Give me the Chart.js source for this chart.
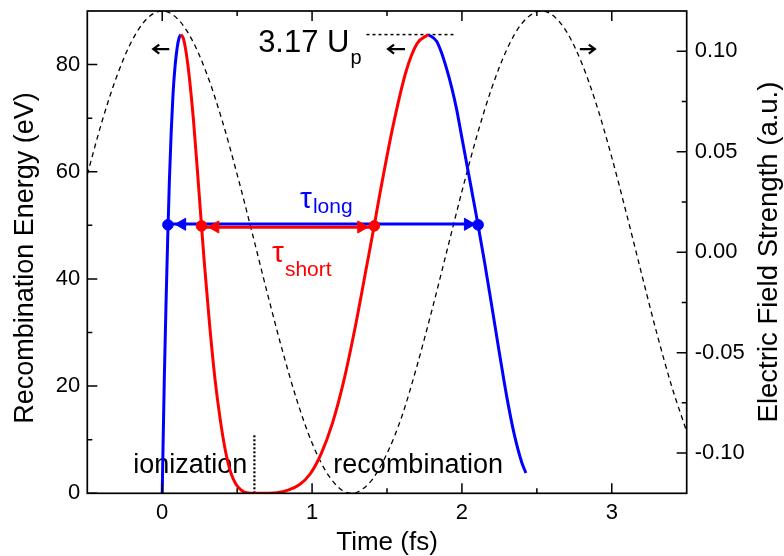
<!DOCTYPE html>
<html>
<head>
<meta charset="utf-8">
<script src="https://cdn.jsdelivr.net/npm/chart.js@4.4.1/dist/chart.umd.min.js"></script>
<style>
  html, body { margin: 0; padding: 0; background: #fff; }
  #wrap { width: 784px; height: 556px; }
</style>
</head>
<body>
<div id="wrap"><canvas id="myChart" width="784" height="556"></canvas></div>
<script>
// Tick values for the three axes
const xTicks = [0, 1, 2, 3];
const xMinor = [0.5, 1.5, 2.5];
const energyTicks = [0, 20, 40, 60, 80];
const energyMinor = [10, 30, 50, 70];
const fieldTicks = [-0.10, -0.05, 0.00, 0.05, 0.10];
const fieldMinor = [-0.075, -0.025, 0.025, 0.075];

// Recombination energy (eV) vs ionization time, long trajectories (blue)
const ionLongT = [0, 0.004, 0.014, 0.025, 0.036, 0.048, 0.060, 0.072, 0.085, 0.100, 0.113, 0.125];
const ionLongE = [0, 6.5, 21.5, 35, 47, 58.5, 67.5, 74.5, 79.5, 83.2, 85, 85.6];
// ... short trajectories (red)
const ionShortT = [0.125, 0.142, 0.170, 0.209, 0.246, 0.262, 0.281, 0.316, 0.351, 0.387, 0.422, 0.457, 0.492, 0.527, 0.562, 0.600, 0.6325];
const ionShortE = [85.6, 84.8, 80.2, 69.5, 56, 50, 43, 31.5, 21.6, 13.8, 7.9, 3.9, 1.7, 0.6, 0.1, 0.01, 0];

// Recombination energy vs recombination time, short trajectories (red)
const recShortT = [0.6325, 0.70, 0.765, 0.84, 0.915, 0.987, 1.061, 1.136, 1.21, 1.287, 1.365, 1.415, 1.45, 1.537, 1.628, 1.70, 1.775];
const recShortE = [0, 0.02, 0.1, 0.6, 1.6, 3.6, 7.4, 13.1, 20.8, 30.9, 42.5, 50, 55.5, 68.1, 78.8, 83.9, 85.6];
// ... long trajectories (blue)
const recLongT = [1.775, 1.83, 1.864, 1.90, 1.931, 1.965, 1.998, 2.03, 2.058, 2.085, 2.108, 2.15, 2.20, 2.25, 2.30, 2.35, 2.40, 2.427];
const recLongE = [85.6, 84.4, 82.2, 79.0, 75.8, 71.6, 66.6, 61.8, 57.6, 53.5, 50, 43.3, 34.8, 26.2, 17.9, 10.9, 5.7, 3.8];

// Electric field strength (a.u.), dashed
const fieldT = [-0.5, -0.4, -0.3, -0.2, -0.1, 0, 0.1, 0.2, 0.3, 0.4, 0.5, 0.6, 0.7, 0.8, 0.9, 1.0, 1.1, 1.2, 1.265, 1.3,
  1.4, 1.5, 1.6, 1.7, 1.8, 1.9, 2.0, 2.1, 2.2, 2.3, 2.4, 2.53, 2.6, 2.7, 2.8, 2.9, 3.0, 3.1, 3.2, 3.3, 3.4, 3.5];
const fieldV = [0.0387, 0.0655, 0.0882, 0.1055, 0.1163, 0.12, 0.1163, 0.1055, 0.0882, 0.0655, 0.0387, 0.0097, -0.0200,
  -0.0484, -0.0740, -0.0950, -0.1100, -0.1185, -0.1200, -0.1195, -0.1133, -0.1002, -0.0815, -0.0566, -0.0288, 0.0007,
  0.0302, 0.0579, 0.0819, 0.1009, 0.1138, 0.1200, 0.1182, 0.1095, 0.0940, 0.0729, 0.0472, 0.0186, -0.0111, -0.0402,
  -0.0668, -0.0893];

// Excursion times at 50 eV
const tauLongT = [0.038, 2.108];
const tauShortT = [0.262, 1.415];
const tauE = 50;
const cutoffE = 85.6;       // 3.17 Up
const cutoffLineT = [1.363, 1.953];
const zeroCrossT = 0.615;   // field zero crossing marker
const zeroCrossTop = 11.2;

const FONT = '"Liberation Sans", Arial, Helvetica, sans-serif';
const BLUE = '#0000ff';
const RED = '#ff0000';

const pts = (xs, ys) => xs.map((v, i) => ({x: v, y: ys[i]}));

function curve(xs, ys, color) {
  return {data: pts(xs, ys), borderColor: color, borderWidth: 3, pointRadius: 0,
    cubicInterpolationMode: 'monotone', yAxisID: 'y'};
}

// arrowheads along the 50 eV lines (centre, pointing direction)
const arrowHeads = [
  {x: 0.133, y: 50.2, rot: -90, c: BLUE},
  {x: 2.040, y: 50.2, rot: 90, c: BLUE},
  {x: 0.354, y: 49.7, rot: -90, c: RED},
  {x: 1.328, y: 49.7, rot: 90, c: RED}
];

// texts drawn under the curves
const labels = [
  {text: 'ionization', x: -0.193, y: 3.73, size: 27, color: '#000'},
  {text: 'recombination', x: 1.142, y: 3.73, size: 27, color: '#000'}
];

// labels with subscripts
const subLabels = [
  {main: '3.17 U', sub: 'p', x: 0.64, y: 82.4, size: 31, subSize: 20, dy: 12, color: '#000'},
  {main: 'τ', sub: 'long', x: 0.92, y: 53.2, size: 30, subSize: 21, dy: 5, color: BLUE},
  {main: 'τ', sub: 'short', x: 0.733, y: 43.2, size: 30, subSize: 21, dy: 14, color: RED}
];

// small black arrows near the top (tail, tip)
const topArrows = [
  {from: 0.047, to: -0.06, y: 82.9},
  {from: 1.62, to: 1.507, y: 82.9},
  {from: 2.787, to: 2.887, y: 82.9}
];

const decorPlugin = {
  id: 'decor',
  beforeDatasetsDraw(chart) {
    const {ctx, scales: {x, y}} = chart;
    ctx.save();
    ctx.textBaseline = 'alphabetic';
    ctx.textAlign = 'left';
    labels.forEach(l => {
      ctx.font = l.size + 'px ' + FONT;
      ctx.fillStyle = l.color;
      ctx.fillText(l.text, x.getPixelForValue(l.x), y.getPixelForValue(l.y));
    });
    ctx.restore();
  },
  afterDatasetsDraw(chart) {
    const {ctx, chartArea: a, scales: {x, y, y2}} = chart;
    ctx.save();
    // frame
    ctx.strokeStyle = '#000';
    ctx.lineWidth = 1.7;
    ctx.strokeRect(a.left, a.top, a.right - a.left, a.bottom - a.top);
    // inward ticks
    ctx.lineWidth = 1.5;
    ctx.beginPath();
    const xt = (list, len) => list.forEach(v => {
      const px = x.getPixelForValue(v);
      ctx.moveTo(px, a.bottom); ctx.lineTo(px, a.bottom - len);
      ctx.moveTo(px, a.top); ctx.lineTo(px, a.top + len);
    });
    xt(xTicks, 10); xt(xMinor, 5);
    const yl = (list, len) => list.forEach(v => {
      const py = y.getPixelForValue(v);
      ctx.moveTo(a.left, py); ctx.lineTo(a.left + len, py);
    });
    yl(energyTicks, 10); yl(energyMinor, 5);
    const yr = (list, len) => list.forEach(v => {
      const py = y2.getPixelForValue(v);
      ctx.moveTo(a.right, py); ctx.lineTo(a.right - len, py);
    });
    yr(fieldTicks, 10); yr(fieldMinor, 5);
    ctx.stroke();

    // black arrows
    ctx.lineWidth = 2.2;
    topArrows.forEach(ar => {
      const x1 = x.getPixelForValue(ar.from), x2 = x.getPixelForValue(ar.to);
      const py = y.getPixelForValue(ar.y);
      const d = Math.sign(x2 - x1);
      ctx.beginPath();
      ctx.moveTo(x1, py); ctx.lineTo(x2, py);
      ctx.moveTo(x2 - d * 6, py - 4.5); ctx.lineTo(x2, py); ctx.lineTo(x2 - d * 6, py + 4.5);
      ctx.stroke();
    });

    // labels with subscripts
    ctx.textBaseline = 'alphabetic';
    ctx.textAlign = 'left';
    subLabels.forEach(l => {
      const px = x.getPixelForValue(l.x), py = y.getPixelForValue(l.y);
      ctx.fillStyle = l.color;
      ctx.font = l.size + 'px ' + FONT;
      ctx.fillText(l.main, px, py);
      const w = ctx.measureText(l.main).width;
      ctx.font = l.subSize + 'px ' + FONT;
      ctx.fillText(l.sub, px + w + 1, py + l.dy);
    });

    // axis titles on the y axes (both read bottom to top)
    ctx.fillStyle = '#000';
    ctx.textAlign = 'center';
    ctx.textBaseline = 'middle';
    ctx.save();
    ctx.font = '27px ' + FONT;
    ctx.translate(26, 258);
    ctx.rotate(-Math.PI / 2);
    ctx.fillText('Recombination Energy (eV)', 0, 0);
    ctx.restore();
    ctx.save();
    ctx.font = '27.5px ' + FONT;
    ctx.translate(769, 252);
    ctx.rotate(-Math.PI / 2);
    ctx.fillText('Electric Field Strength (a.u.)', 0, 0);
    ctx.restore();
    ctx.restore();
  }
};

// remove the extra room Chart.js keeps for half tick labels
const noPad = s => { s.paddingTop = 0; s.paddingBottom = 0; s.paddingLeft = 0; s.paddingRight = 0; };

function drawChart() {
  const ctx = document.getElementById('myChart').getContext('2d');
  const tickFont = {size: 22, family: FONT};
  new Chart(ctx, {
    type: 'line',
    data: {
      datasets: [
        // arrowheads and dots on top
        {data: arrowHeads.map(p => ({x: p.x, y: p.y})), showLine: false, pointStyle: 'triangle',
          pointRadius: 7, pointRotation: arrowHeads.map(p => p.rot),
          pointBackgroundColor: arrowHeads.map(p => p.c), pointBorderColor: arrowHeads.map(p => p.c),
          pointBorderWidth: 1, yAxisID: 'y'},
        {data: tauLongT.map(t => ({x: t, y: tauE + 0.1})), showLine: false, pointRadius: 5.3,
          pointBackgroundColor: BLUE, pointBorderColor: BLUE, pointBorderWidth: 1, yAxisID: 'y'},
        {data: tauShortT.map(t => ({x: t, y: tauE - 0.1})), showLine: false, pointRadius: 5.3,
          pointBackgroundColor: RED, pointBorderColor: RED, pointBorderWidth: 1, yAxisID: 'y'},
        {data: tauShortT.map(t => ({x: t, y: tauE - 0.35})), borderColor: RED, borderWidth: 3.2,
          pointRadius: 0, yAxisID: 'y'},
        {data: tauLongT.map(t => ({x: t, y: tauE + 0.25})), borderColor: BLUE, borderWidth: 2.8,
          pointRadius: 0, yAxisID: 'y'},
        // trajectory curves
        curve(ionShortT, ionShortE, RED),
        curve(recShortT, recShortE, RED),
        curve(ionLongT, ionLongE, BLUE),
        curve(recLongT, recLongE, BLUE),
        // cutoff and zero-crossing markers
        {data: cutoffLineT.map(t => ({x: t, y: cutoffE})), borderColor: '#000', borderWidth: 1.5,
          borderDash: [3, 3], pointRadius: 0, yAxisID: 'y'},
        {data: [{x: zeroCrossT, y: 0}, {x: zeroCrossT, y: zeroCrossTop}], borderColor: '#000',
          borderWidth: 2.2, borderDash: [2, 2], pointRadius: 0, yAxisID: 'y'},
        // electric field
        {data: pts(fieldT, fieldV), borderColor: '#000', borderWidth: 1.3, borderDash: [5, 4],
          pointRadius: 0, cubicInterpolationMode: 'monotone', yAxisID: 'y2'}
      ]
    },
    options: {
      responsive: false,
      animation: false,
      events: [],
      layout: {padding: {top: 11, left: 0, right: 0, bottom: 0}},
      plugins: {legend: {display: false}, tooltip: {enabled: false}},
      scales: {
        x: {
          type: 'linear', min: -0.5, max: 3.5,
          afterBuildTicks: s => { s.ticks = xTicks.map(v => ({value: v})); },
          afterFit: s => { s.height = 62.7; noPad(s); },
          grid: {display: false, drawTicks: false},
          border: {display: false},
          ticks: {color: '#000', font: tickFont, padding: 6.5, maxRotation: 0, callback: v => String(v)},
          title: {display: true, text: 'Time (fs)', color: '#000',
            font: {size: 26, family: FONT, lineHeight: 1}, padding: {top: 0, bottom: 0}}
        },
        y: {
          type: 'linear', position: 'left', min: 0, max: 90,
          afterBuildTicks: s => { s.ticks = energyTicks.map(v => ({value: v})); },
          afterFit: s => { s.width = 87.3; noPad(s); },
          grid: {display: false, drawTicks: false},
          border: {display: false},
          ticks: {color: '#000', font: tickFont, padding: 7, callback: v => String(v)}
        },
        y2: {
          type: 'linear', position: 'right', min: -0.12, max: 0.12,
          afterBuildTicks: s => { s.ticks = fieldTicks.map(v => ({value: v})); },
          afterFit: s => { s.width = 97.3; noPad(s); },
          grid: {display: false, drawTicks: false},
          border: {display: false},
          ticks: {color: '#000', font: tickFont, padding: 8, callback: v => v.toFixed(2)}
        }
      }
    },
    plugins: [decorPlugin]
  });
}

window.onload = drawChart;
</script>
</body>
</html>
